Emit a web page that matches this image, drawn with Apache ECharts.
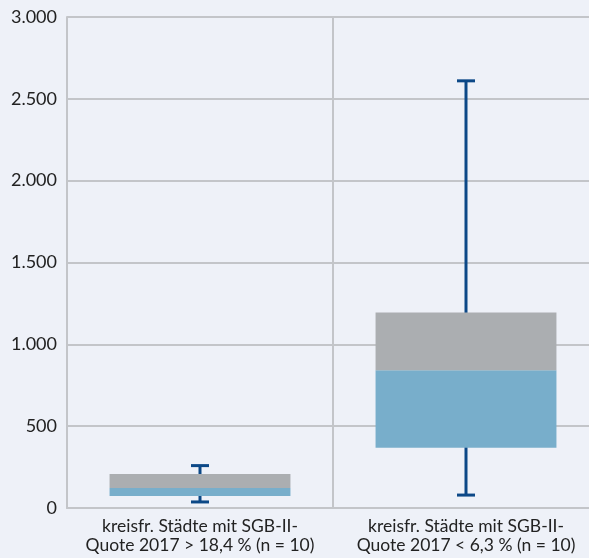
<!DOCTYPE html>
<html>
<head>
<meta charset="utf-8">
<script src="https://cdn.jsdelivr.net/npm/echarts@6/dist/echarts.min.js"></script>
<style>
html,body{margin:0;padding:0;background:#eef1f8;}
#chart{width:589px;height:558px;}
</style>
</head>
<body>
<div id="chart"></div>
<script>
const categories = [
  'kreisfr. Städte mit SGB-II-\nQuote 2017 > 18,4 % (n = 10)',
  'kreisfr. Städte mit SGB-II-\nQuote 2017 < 6,3 % (n = 10)'
];
const whiskerMin = [37, 79];
const q1 = [73, 368];
const median = [122, 841];
const q3 = [207, 1195];
const whiskerMax = [259, 2610];
const yTicks = { min: 0, max: 3000, interval: 500 };

const lowerPart = median.map((m, i) => m - q1[i]);
const upperPart = q3.map((v, i) => v - median[i]);

const chart = echarts.init(document.getElementById('chart'), null, { renderer: 'canvas' });
const fontFamily = 'Lato, "Noto Sans", sans-serif';
const option = {
  backgroundColor: '#eef1f8',
  animation: false,
  grid: { left: 67, right: -10, top: 17, bottom: 50, containLabel: false, outerBoundsMode: 'none' },
  xAxis: {
    type: 'category',
    data: categories,
    axisLine: { show: true, lineStyle: { color: '#c3c5c9', width: 2 } },
    axisTick: { show: false },
    splitLine: { show: true, lineStyle: { color: '#c3c5c9', width: 2 } },
    axisLabel: { color: '#222', fontFamily, fontSize: 17.5, lineHeight: 19, margin: 9, interval: 0 }
  },
  yAxis: {
    type: 'value',
    min: yTicks.min, max: yTicks.max, interval: yTicks.interval,
    axisLine: { show: true, lineStyle: { color: '#c3c5c9', width: 2 } },
    axisTick: { show: false },
    splitLine: { show: true, lineStyle: { color: '#c3c5c9', width: 2 } },
    axisLabel: {
      color: '#222', fontFamily, fontSize: 18, margin: 10,
      formatter: v => String(v).replace(/\B(?=(\d{3})+(?!\d))/g, '.')
    }
  },
  series: [
    {
      type: 'custom',
      z: 1,
      renderItem: function (params, api) {
        const x = api.value(0);
        const top = api.coord([x, api.value(2)]);
        const bot = api.coord([x, api.value(1)]);
        const boxTop = api.coord([x, api.value(4)]);
        const boxBot = api.coord([x, api.value(3)]);
        const half = 9;
        const style = { stroke: '#0c4887', lineWidth: 3 };
        return {
          type: 'group',
          children: [
            { type: 'line', shape: { x1: top[0], y1: top[1], x2: boxTop[0], y2: boxTop[1] + 1 }, style },
            { type: 'line', shape: { x1: boxBot[0], y1: boxBot[1] - 1, x2: bot[0], y2: bot[1] }, style },
            { type: 'line', shape: { x1: top[0] - half, y1: top[1], x2: top[0] + half, y2: top[1] }, style },
            { type: 'line', shape: { x1: bot[0] - half, y1: bot[1], x2: bot[0] + half, y2: bot[1] }, style }
          ]
        };
      },
      data: categories.map((c, i) => [i, whiskerMin[i], whiskerMax[i], q1[i], q3[i]])
    },
    {
      type: 'bar', stack: 'box', barWidth: '68%', z: 2,
      itemStyle: { color: 'rgba(0,0,0,0)' },
      data: q1
    },
    {
      type: 'bar', stack: 'box', barWidth: '68%', z: 2,
      itemStyle: { color: '#78aecb' },
      data: lowerPart
    },
    {
      type: 'bar', stack: 'box', barWidth: '68%', z: 2,
      itemStyle: { color: '#abaeb1' },
      data: upperPart
    }
  ]
};
chart.setOption(option);
</script>
</body>
</html>
